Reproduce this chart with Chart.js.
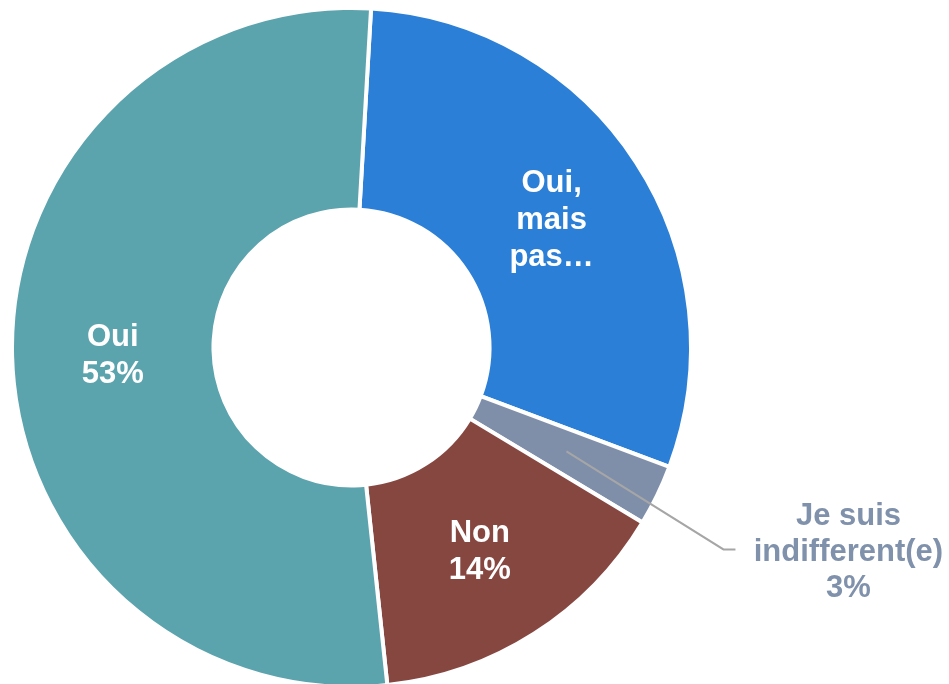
<!DOCTYPE html>
<html>
<head>
<meta charset="utf-8">
<script src="https://cdn.jsdelivr.net/npm/chart.js@4.4.1/dist/chart.umd.min.js"></script>
<style>
  html, body { margin: 0; padding: 0; background: #fff; }
  #wrap { width: 949px; height: 684px; }
</style>
</head>
<body>
<div id="wrap"><canvas id="chartCanvas" width="949" height="684"></canvas></div>
<script>
const categories = ['Oui, mais pas…', 'Je suis indifferent(e)', 'Non', 'Oui'];
const values = [29.8, 2.9, 14.7, 52.6];
const colors = ['#2b7fd6', '#7f8fa9', '#874741', '#5ba3ad'];
// text shown on the chart for each slice
const shownLabels = [
  ['Oui,', 'mais', 'pas…'],
  ['Je suis', 'indifferent(e)', '3%'],
  ['Non', '14%'],
  ['Oui', '53%']
];
const outsideSlice = 1;

const sliceLabels = {
  id: 'sliceLabels',
  afterDatasetsDraw(chart) {
    const ctx = chart.ctx;
    const arcs = chart.getDatasetMeta(0).data;
    ctx.save();
    ctx.font = 'bold 31px "Liberation Sans", Arial, sans-serif';
    ctx.textAlign = 'center';
    ctx.textBaseline = 'middle';

    arcs.forEach((arc, i) => {
      const pos = arc.tooltipPosition();
      const lines = shownLabels[i];
      let x = pos.x, y = pos.y + 3;
      let lh = 37;

      if (i === outsideSlice) {
        // leader line out to the label on the right
        const elbowX = pos.x + 157, elbowY = pos.y + 98;
        ctx.strokeStyle = '#a6a6a6';
        ctx.lineWidth = 2;
        ctx.beginPath();
        ctx.moveTo(pos.x, pos.y);
        ctx.lineTo(elbowX, elbowY);
        ctx.lineTo(elbowX + 12, elbowY);
        ctx.stroke();
        x = elbowX + 125;
        y = elbowY + 3;
        lh = 36;
        ctx.fillStyle = '#8091ab';
      } else {
        ctx.fillStyle = '#ffffff';
      }
      lines.forEach((t, k) => {
        ctx.fillText(t, x, y + (k - (lines.length - 1) / 2) * lh);
      });
    });
    ctx.restore();
  }
};

const chart = new Chart(document.getElementById('chartCanvas').getContext('2d'), {
  type: 'doughnut',
  data: {
    labels: categories,
    datasets: [{
      data: values,
      backgroundColor: colors,
      borderColor: '#ffffff',
      borderWidth: 4
    }]
  },
  options: {
    responsive: false,
    animation: false,
    rotation: 3.3,
    radius: 339.5,
    cutout: 136,
    layout: { padding: { left: 0, right: 246, top: 11, bottom: 0 } },
    plugins: {
      legend: { display: false },
      tooltip: { enabled: false }
    }
  },
  plugins: [sliceLabels]
});
</script>
</body>
</html>
